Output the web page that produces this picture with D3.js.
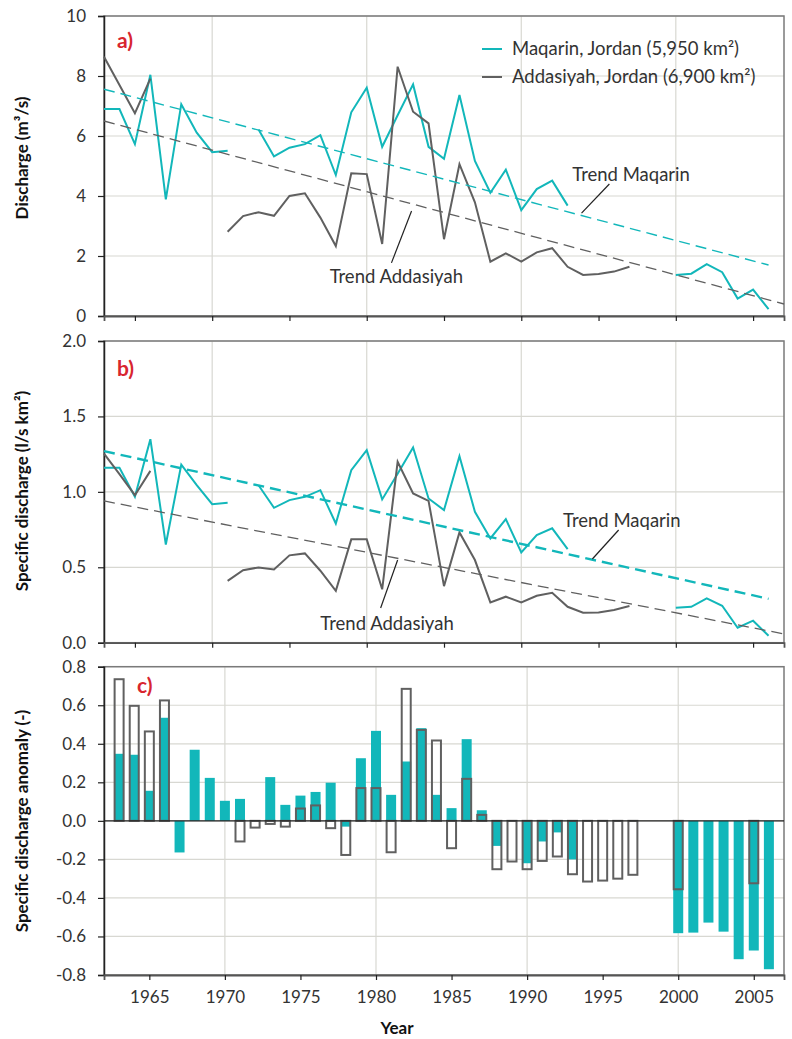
<!DOCTYPE html>
<html>
<head>
<meta charset="utf-8">
<script src="https://cdn.jsdelivr.net/npm/d3@7"></script>
<style>
  body { margin: 0; background: #fff; }
  svg text { font-family: Lato, "Open Sans", sans-serif; fill: #333; }
</style>
</head>
<body>
<div id="chart"></div>
<script>
/* ---------- data ---------- */

// years shown in panels a) and b)
const years = [1963, 1964, 1965, 1966, 1967, 1968, 1969, 1970, 1971, 1972,
    1973, 1974, 1975, 1976, 1977, 1978, 1979, 1980, 1981, 1982,
    1983, 1984, 1985, 1986, 1987, 1988, 1989, 1990, 1991, 1992,
    1993, 1994, 1995, 1996, 1997, 1998, 1999, 2000, 2001, 2002,
    2003, 2004, 2005, 2006];

// a) discharge (m3/s)
const maqarinQ = [6.9, 6.9, 5.73, 8.04, 3.89, 7.06, 6.11, 5.46, 5.51, null,
    6.22, 5.32, 5.61, 5.73, 6.03, 4.7, 6.79, 7.61, 5.64, 6.69,
    7.72, 5.64, 5.24, 7.37, 5.17, 4.11, 4.88, 3.53, 4.23, 4.51,
    3.68, null, null, null, null, null, null, 1.37, 1.41, 1.73,
    1.46, 0.58, 0.88, 0.23];
const addasiyahQ = [8.64, 7.7, 6.76, 7.91, null, null, null, null, 2.81, 3.33,
    3.46, 3.34, 4.0, 4.09, 3.28, 2.33, 4.76, 4.73, 2.4, 8.31,
    6.81, 6.42, 2.56, 5.06, 3.79, 1.81, 2.09, 1.81, 2.12, 2.26,
    1.64, 1.37, 1.4, 1.48, 1.64, null, null, null, null, null,
    null, null, null, null];

// b) specific discharge (l/s km2)
const maqarinSpec = [1.159, 1.16, 0.967, 1.349, 0.651, 1.181, 1.044, 0.918, 0.927, null,
    1.044, 0.894, 0.945, 0.967, 1.011, 0.79, 1.144, 1.276, 0.95, 1.12,
    1.294, 0.956, 0.879, 1.236, 0.868, 0.691, 0.819, 0.599, 0.713, 0.758,
    0.62, null, null, null, null, null, null, 0.232, 0.238, 0.294,
    0.245, 0.099, 0.146, 0.046];
const addasiyahSpec = [1.254, 1.117, 0.978, 1.139, null, null, null, null, 0.41, 0.481,
    0.499, 0.486, 0.579, 0.592, 0.477, 0.344, 0.685, 0.685, 0.354, 1.199,
    0.989, 0.94, 0.375, 0.731, 0.548, 0.267, 0.305, 0.267, 0.311, 0.331,
    0.238, 0.199, 0.2, 0.217, 0.243, null, null, null, null, null,
    null, null, null, null];

// c) specific discharge anomaly (-)
const maqarinAnom = [0.348, 0.343, 0.156, 0.535, -0.164, 0.369, 0.223, 0.104, 0.114, null,
    0.227, 0.083, 0.131, 0.15, 0.198, -0.03, 0.325, 0.467, 0.135, 0.308,
    0.481, 0.135, 0.066, 0.424, 0.055, -0.13, 0.0, -0.22, -0.107, -0.06,
    -0.2, null, null, null, null, null, null, -0.583, -0.58, -0.528,
    -0.575, -0.718, -0.673, -0.77];
const addasiyahAnom = [0.735, 0.597, 0.464, 0.625, null, null, null, null, -0.107, -0.035,
    -0.016, -0.03, 0.064, 0.08, -0.038, -0.177, 0.17, 0.17, -0.163, 0.685,
    0.472, 0.417, -0.142, 0.218, 0.031, -0.251, -0.211, -0.251, -0.208, -0.185,
    -0.277, -0.315, -0.31, -0.3, -0.28, null, null, -0.355, null, null,
    null, null, -0.324, null];

// linear trends: [year, value] end points
const trendMaqarinQ = [[1963, 7.56], [2006, 1.70]];
const trendAddasiyahQ = [[1963, 6.5], [2007, 0.40]];
const trendMaqarinSpec = [[1963, 1.27], [2006, 0.291]];
const trendAddasiyahSpec = [[1963, 0.94], [2007, 0.058]];

// ticks
const yTicksA = [0, 2, 4, 6, 8, 10];
const yTicksB = [0, 0.5, 1.0, 1.5, 2.0];
const yTicksC = [-0.8, -0.6, -0.4, -0.2, 0, 0.2, 0.4, 0.6, 0.8];
const xTickYears = [1965, 1970, 1975, 1980, 1985, 1990, 1995, 2000, 2005];
const gridYears = [1970, 1980, 1990, 2000];

/* ---------- layout ---------- */
const W = 792, H = 1039;
const left = 104, right = 784;
const teal = '#12b7ba';
const grey = '#606060';

const svg = d3.select('#chart').append('svg')
    .attr('width', W)
    .attr('height', H);

// panel a/b share a year scale, panel c bars are offset by one category
const xAB = d3.scaleLinear().domain([1963, 2007]).range([left, right]);
const xC = d3.scaleLinear().domain([1962, 2007]).range([left, right]);

const yA = d3.scaleLinear().domain([0, 10]).range([316, 16]);
const yB = d3.scaleLinear().domain([0, 2]).range([642.7, 341]);
const yC = d3.scaleLinear().domain([-0.8, 0.8]).range([975, 666.7]);

function drawFrame(x, y, yTicks, fmt, showYears) {
    const g = svg.append('g');
    const [y0, y1] = y.range();

    // gridlines
    g.selectAll('.hgrid').data(yTicks).enter().append('line')
        .attr('x1', left).attr('x2', right)
        .attr('y1', d => y(d)).attr('y2', d => y(d))
        .attr('stroke', '#d8d8d2').attr('stroke-width', 1.2);
    g.selectAll('.vgrid').data(gridYears).enter().append('line')
        .attr('x1', d => x(d)).attr('x2', d => x(d))
        .attr('y1', y1).attr('y2', y0)
        .attr('stroke', '#d8d8d2').attr('stroke-width', 1.2);

    // frame
    g.append('rect')
        .attr('x', left).attr('y', y1)
        .attr('width', right - left).attr('height', y0 - y1)
        .attr('fill', 'none').attr('stroke', '#7a7a7a').attr('stroke-width', 1.5);

    // y axis
    const ya = g.append('g')
        .attr('transform', `translate(${left},0)`)
        .call(d3.axisLeft(y).tickValues(yTicks).tickSize(6).tickPadding(12).tickFormat(fmt));
    ya.select('.domain').attr('stroke', '#222').attr('stroke-width', 1.5);
    ya.selectAll('.tick line').attr('stroke', '#222').attr('stroke-width', 1.2);
    ya.selectAll('text').style('font-size', '17px');

    // x axis
    const xa = g.append('g')
        .attr('transform', `translate(0,${y0})`)
        .call(d3.axisBottom(x).tickValues(xTickYears).tickSize(5).tickPadding(11)
            .tickFormat(showYears ? d3.format('d') : ''));
    xa.select('.domain').attr('stroke', '#555').attr('stroke-width', 1.8);
    xa.selectAll('.tick line').attr('stroke', '#222').attr('stroke-width', 1.2);
    xa.selectAll('text').style('font-size', '17px');
    return g;
}

function drawLines(x, y, maq, add, trMaq, trAdd, trendWidth) {
    const line = d3.line()
        .defined(d => d[1] != null)
        .x(d => x(d[0]))
        .y(d => y(d[1]));

    svg.append('path')
        .datum(years.map((yr, i) => [yr, maq[i]]))
        .attr('d', line)
        .attr('fill', 'none').attr('stroke', teal).attr('stroke-width', 2);
    svg.append('path')
        .datum(years.map((yr, i) => [yr, add[i]]))
        .attr('d', line)
        .attr('fill', 'none').attr('stroke', grey).attr('stroke-width', 2);

    svg.append('path')
        .datum(trMaq)
        .attr('d', line)
        .attr('fill', 'none').attr('stroke', teal).attr('stroke-width', trendWidth)
        .attr('stroke-dasharray', '11,6');
    svg.append('path')
        .datum(trAdd)
        .attr('d', line)
        .attr('fill', 'none').attr('stroke', grey).attr('stroke-width', 1.3)
        .attr('stroke-dasharray', '11,6');
}

function trendLabel(x, y, label, tx, ty, l1, l2) {
    svg.append('text')
        .attr('x', x(tx)).attr('y', y(ty))
        .style('font-size', '18.5px')
        .text(label);
    svg.append('line')
        .attr('x1', x(l1[0])).attr('y1', y(l1[1]))
        .attr('x2', x(l2[0])).attr('y2', y(l2[1]))
        .attr('stroke', '#222').attr('stroke-width', 1.2);
}

function panelLetter(x, y, label) {
    svg.append('text')
        .attr('x', x).attr('y', y)
        .style('font-size', '21px').style('font-weight', 'bold')
        .style('fill', '#d8262f')
        .text(label);
}

function yTitle(cy, label) {
    svg.append('text')
        .attr('transform', `translate(28,${cy}) rotate(-90)`)
        .attr('text-anchor', 'middle')
        .style('font-size', '17px').style('font-weight', 'bold')
        .style('fill', '#111')
        .text(label);
}

/* ---------- panel a ---------- */
drawFrame(xAB, yA, yTicksA, d3.format('d'), false);
drawLines(xAB, yA, maqarinQ, addasiyahQ, trendMaqarinQ, trendAddasiyahQ, 1.4);
trendLabel(xAB, yA, 'Trend Maqarin', 1993.3, 4.5, [1995.7, 4.4], [1993.9, 3.43]);
trendLabel(xAB, yA, 'Trend Addasiyah', 1977.6, 1.1, [1981.6, 1.77], [1982.9, 3.5]);
panelLetter(117, 48, 'a)');
yTitle(158, 'Discharge (m³/s)');

// legend
const legend = svg.append('g').attr('transform', 'translate(482,49)');
[['Maqarin, Jordan (5,950 km²)', teal], ['Addasiyah, Jordan (6,900 km²)', grey]].forEach((d, i) => {
    legend.append('line')
        .attr('x1', 0).attr('x2', 20)
        .attr('y1', i * 28).attr('y2', i * 28)
        .attr('stroke', d[1]).attr('stroke-width', 2);
    legend.append('text')
        .attr('x', 30).attr('y', i * 28).attr('dy', '0.35em')
        .style('font-size', '18.5px')
        .text(d[0]);
});

/* ---------- panel b ---------- */
drawFrame(xAB, yB, yTicksB, d3.format('.1f'), false);
drawLines(xAB, yB, maqarinSpec, addasiyahSpec, trendMaqarinSpec, trendAddasiyahSpec, 2.4);
trendLabel(xAB, yB, 'Trend Maqarin', 1992.7, 0.767, [1996.3, 0.747], [1994.6, 0.555]);
trendLabel(xAB, yB, 'Trend Addasiyah', 1977.0, 0.084, [1980.9, 0.23], [1982.0, 0.548]);
panelLetter(117, 376, 'b)');
yTitle(491, 'Specific discharge (l/s km²)');

/* ---------- panel c ---------- */
drawFrame(xC, yC, yTicksC, d => (d < 0 ? '-' : '') + Math.abs(d).toFixed(1), true);

const barW = 10;
svg.append('g').selectAll('rect')
    .data(years.map((yr, i) => [yr, maqarinAnom[i]]).filter(d => d[1] != null))
    .enter().append('rect')
    .attr('x', d => xC(d[0]) - barW / 2)
    .attr('width', barW)
    .attr('y', d => yC(Math.max(0, d[1])))
    .attr('height', d => Math.abs(yC(d[1]) - yC(0)))
    .attr('fill', teal);

svg.append('g').selectAll('rect')
    .data(years.map((yr, i) => [yr, addasiyahAnom[i]]).filter(d => d[1] != null))
    .enter().append('rect')
    .attr('x', d => xC(d[0]) - 4.5)
    .attr('width', 9)
    .attr('y', d => yC(Math.max(0, d[1])))
    .attr('height', d => Math.abs(yC(d[1]) - yC(0)))
    .attr('fill', 'none')
    .attr('stroke', grey).attr('stroke-width', 2);

// zero line
svg.append('line')
    .attr('x1', left).attr('x2', right)
    .attr('y1', yC(0)).attr('y2', yC(0))
    .attr('stroke', '#222').attr('stroke-width', 1.3);

panelLetter(137, 693, 'c)');
yTitle(821, 'Specific discharge anomaly (-)');

svg.append('text')
    .attr('x', 397).attr('y', 1034)
    .attr('text-anchor', 'middle')
    .style('font-size', '17px').style('font-weight', 'bold')
    .style('fill', '#111')
    .text('Year');
</script>
</body>
</html>
